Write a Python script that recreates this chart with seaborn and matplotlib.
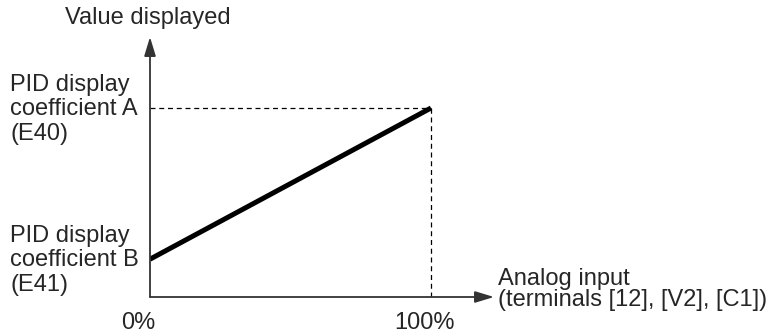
import matplotlib.pyplot as plt
import seaborn as sns
import pandas as pd

# analog input (%) vs value displayed (relative units, B at 0%, A at 100%)
input_pct = [0, 100]
value_shown = [20, 100]
x_labels = ["0%", "100%"]
y_labels = ["PID display\ncoefficient A\n(E40)", "PID display\ncoefficient B\n(E41)"]

df = pd.DataFrame({"input": input_pct, "value": value_shown})

sns.set_style("white")
plt.rcParams['font.family'] = ['Liberation Sans', 'DejaVu Sans']

W, H = 772, 333
fig = plt.figure(figsize=(W / 100, H / 100), dpi=100)
# axes box: x 150..494 px, y 37..297 px
x0, x1, ytop, ybot = 150, 494, 37, 297
ax = fig.add_axes([x0 / W, (H - ybot) / H, (x1 - x0) / W, (ybot - ytop) / H])
px_per_pct = (431 - x0) / 100
xmax = (x1 - x0) / px_per_pct
px_per_val = (ybot - 108) / 100
ymax = (ybot - ytop) / px_per_val
ax.set_xlim(0, xmax)
ax.set_ylim(0, ymax)
ax.axis("off")

sns.lineplot(data=df, x="input", y="value", ax=ax, color="black", lw=3.6,
             solid_capstyle="butt", legend=False)

# dashed guides to the 100% point
ax.plot([0, input_pct[1]], [value_shown[1]] * 2, ls=(0, (4, 3)), color="black", lw=0.9)
ax.plot([input_pct[1]] * 2, [0, value_shown[1]], ls=(0, (4, 3)), color="black", lw=0.9)

# axes with arrowheads
arrow = dict(arrowstyle="-|>,head_length=1.15,head_width=0.35", color="#333333", lw=1.3,
             shrinkA=0, shrinkB=0)
ax.annotate("", xy=(xmax, 0), xytext=(0, 0), arrowprops=arrow, annotation_clip=False)
ax.annotate("", xy=(0, ymax), xytext=(0, 0), arrowprops=arrow, annotation_clip=False)

fs = 17
ax.text(-2 / px_per_pct, ymax + 19 / px_per_val, "Value displayed", ha="center", va="center",
        fontsize=fs)
ax.text(xmax + 4 / px_per_pct, -9 / px_per_val, "Analog input\n(terminals [12], [V2], [C1])",
        ha="left", va="baseline", fontsize=fs, linespacing=0.92)
for x, lab in zip(input_pct, x_labels):
    off = -12 / px_per_pct if x == 0 else -6 / px_per_pct
    ax.text(x + off, -32 / px_per_val, lab, ha="center", va="baseline", fontsize=fs)
for v, lab in zip(value_shown[::-1], y_labels):
    for i, line in enumerate(lab.split("\n")):
        ax.text(-140 / px_per_pct, v + (-7 + 24.5 * (1 - i)) / px_per_val, line,
                ha="left", va="baseline", fontsize=fs)

fig.savefig("out.png", dpi=100)
